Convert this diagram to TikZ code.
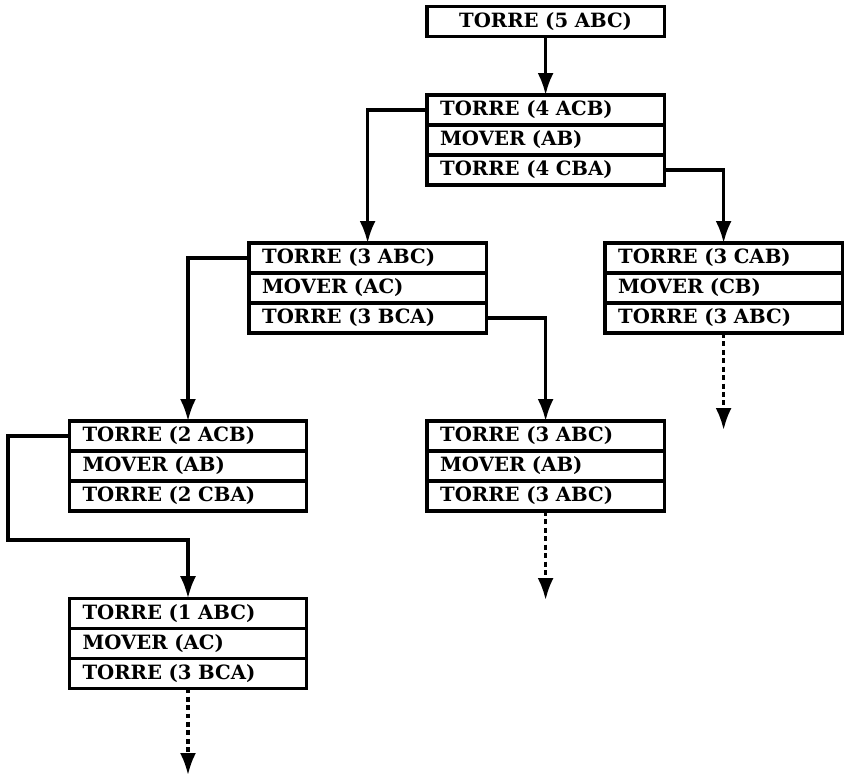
\documentclass[tikz,border=0pt]{standalone}
\usepackage{fontspec}
\setmainfont{DejaVu Serif}
\usepackage{tikz}
\usetikzlibrary{arrows.meta,positioning}
\tikzset{
    row/.style={draw, line width=2.2pt, rectangle, outer sep=0pt, inner ysep=0pt, inner xsep=0.33cm,
      text width=5.27cm, align=left, minimum height=0.75cm, font=\bfseries\fontsize{14}{16}\selectfont},
    link/.style={line width=2.2pt, -{Latex[length=5.5mm,width=4mm]}},
    more/.style={link, dash pattern=on 3.5pt off 2.5pt}}

\begin{document}
\begin{tikzpicture}
\useasboundingbox (0,0) rectangle (21.1,-19.425);
\node[row, align=center] (t5) at (13.64,-0.54){TORRE (5 ABC)};
% nivel 4
\node[row] (t4a) at (13.64,-2.75){TORRE (4 ACB)};
\node[row, below=0pt of t4a] (t4b){MOVER (AB)};
\node[row, below=0pt of t4b] (t4c){TORRE (4 CBA)};
\draw[link] (t5)--(t4a);
% nivel 3
\node[row] (t3a) at (9.19,-6.45){TORRE (3 ABC)};
\node[row, below=0pt of t3a] (t3b){MOVER (AC)};
\node[row, below=0pt of t3b] (t3c){TORRE (3 BCA)};
\node[row] (u3a) at (18.09,-6.45){TORRE (3 CAB)};
\node[row, below=0pt of u3a] (u3b){MOVER (CB)};
\node[row, below=0pt of u3b] (u3c){TORRE (3 ABC)};
\draw[link] (t4a.west) -| (t3a.north);
\draw[link] (t4c.east) -| (u3a.north);
% nivel 2
\node[row] (t2a) at (4.7,-10.9){TORRE (2 ACB)};
\node[row, below=0pt of t2a] (t2b){MOVER (AB)};
\node[row, below=0pt of t2b] (t2c){TORRE (2 CBA)};
\node[row] (v3a) at (13.64,-10.9){TORRE (3 ABC)};
\node[row, below=0pt of v3a] (v3b){MOVER (AB)};
\node[row, below=0pt of v3b] (v3c){TORRE (3 ABC)};
\draw[link] (t3a.west) -| (t2a.north);
\draw[link] (t3c.east) -| (v3a.north);
% nivel 1
\node[row] (t1a) at (4.7,-15.33){TORRE (1 ABC)};
\node[row, below=0pt of t1a] (t1b){MOVER (AC)};
\node[row, below=0pt of t1b] (t1c){TORRE (3 BCA)};
\coordinate (bend) at (0.2,-13.5);
\draw[link] (t2a.west) -| (bend) -| (t1a.north);
% continua
\coordinate (u3end) at (18.09,-10.75);
\coordinate (v3end) at (13.64,-15.0);
\coordinate (t1end) at (4.7,-19.375);
\draw[more] (u3c.south) -- (u3end);
\draw[more] (v3c.south) -- (v3end);
\draw[more] (t1c.south) -- (t1end);
\end{tikzpicture}
\end{document}
